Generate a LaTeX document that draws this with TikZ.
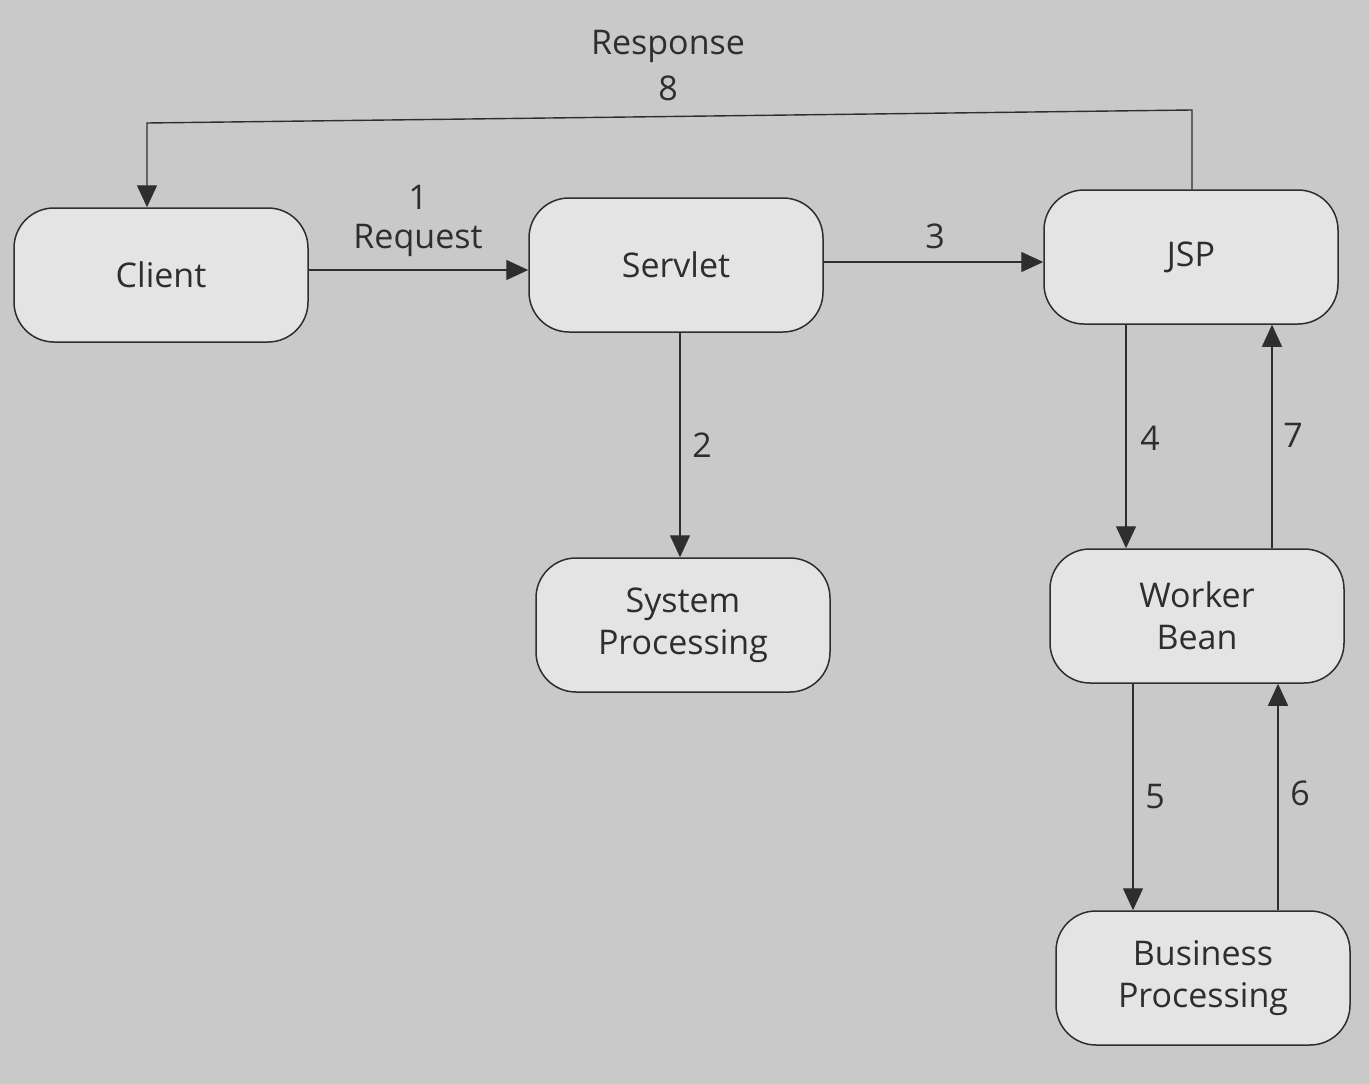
\documentclass[tikz,border=0pt]{standalone}
\usepackage{fontspec}
\setmainfont{Open Sans}
\usetikzlibrary{arrows.meta}
\definecolor{bg}{HTML}{C9C9C9}
\definecolor{boxfill}{HTML}{E4E4E4}
\definecolor{ink}{HTML}{2E2E2E}
\begin{document}
\begin{tikzpicture}[x=1pt,y=-1pt,
  box/.style={draw=ink,line width=1.5pt,fill=boxfill,rounded corners=40pt,
    minimum width=294pt,minimum height=134pt,align=center,text=ink,
    font=\fontsize{34}{42}\selectfont},
  arr/.style={draw=ink,line width=1.4pt,-{Triangle[length=22pt,width=20pt]}},
  lbl/.style={text=ink,font=\fontsize{34}{40}\selectfont,inner sep=0pt}]
\useasboundingbox (0,0) rectangle (1369,1084);
\fill[bg] (0,0) rectangle (1369,1084);
\node[box] (client) at (161,275) {Client};
\node[box] (servlet) at (676,265) {Servlet};
\node[box] (jsp) at (1191,257) {JSP};
\node[box] (sys) at (683,625) {System\\Processing};
\node[box] (wb) at (1197,616) {Worker\\Bean};
\node[box] (bp) at (1203,978) {Business\\Processing};
% 1 Request
\draw[arr] (client.east |- 0,270) -- (servlet.west |- 0,270);
\node[lbl] (l1) at (418,197) {1};
\node[lbl] (lreq) at (418,240) {Request};
% 3
\draw[arr] (servlet.east |- 0,262) -- (jsp.west |- 0,262);
\node[lbl] (l3) at (935,236) {3};
% 2
\draw[arr] (servlet.south -| 680,0) -- (sys.north -| 680,0);
\node[lbl] (l2) at (702,445) {2};
% 4 and 7
\draw[arr] (jsp.south -| 1126,0) -- (wb.north -| 1126,0);
\node[lbl] (l4) at (1150,438) {4};
\draw[arr] (wb.north -| 1272,0) -- (jsp.south -| 1272,0);
\node[lbl] (l7) at (1293,435) {7};
% 5 and 6
\draw[arr] (wb.south -| 1133,0) -- (bp.north -| 1133,0);
\node[lbl] (l5) at (1155,797) {5};
\draw[arr] (bp.north -| 1278,0) -- (wb.south -| 1278,0);
\node[lbl] (l6) at (1300,793) {6};
% 8 Response
\coordinate (r1) at (1192,110);
\coordinate (r2) at (147,123);
\draw[arr] (jsp.north -| r1) -- (r1) -- (r2) -- (client.north -| r2);
\node[lbl] (lresp) at (668,46) {Response};
\node[lbl] (l8) at (668,88) {8};
\end{tikzpicture}
\end{document}
